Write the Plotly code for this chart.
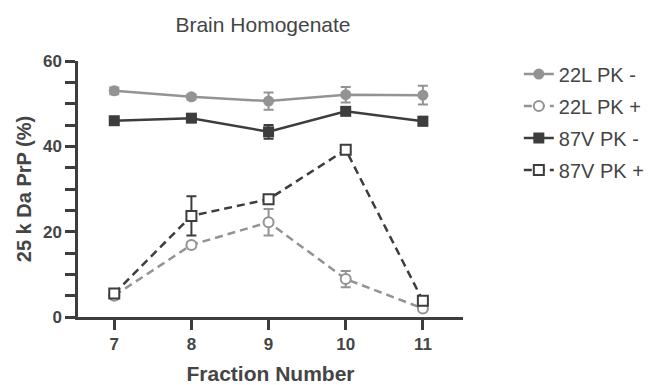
import plotly.graph_objects as go

fractions = [7, 8, 9, 10, 11]

pk_minus_22l = [53.0, 51.6, 50.6, 52.1, 52.0]
pk_minus_22l_err = [0.8, 0.6, 2.0, 1.8, 2.2]

pk_plus_22l = [5.0, 16.9, 22.2, 8.9, 2.0]
pk_plus_22l_err = [0.5, 0.6, 3.1, 1.9, 0.5]

pk_minus_87v = [46.0, 46.6, 43.4, 48.2, 45.9]
pk_minus_87v_err = [0.6, 0.5, 1.6, 0.6, 1.0]

pk_plus_87v = [5.5, 23.7, 27.6, 39.2, 3.8]
pk_plus_87v_err = [0.8, 4.6, 0.8, 0.5, 0.6]

LIGHT = "#939393"
DARK = "#3d3d3d"
TEXT = "#454545"
FONT = "Liberation Sans, Arial, sans-serif"

fig = go.Figure()

def add(name, y, err, color, symbol, dash, filled):
    if filled:
        marker = dict(symbol=symbol, size=11, color=color, line=dict(width=0))
    else:
        marker = dict(symbol=symbol, size=10, color="white", line=dict(color=color, width=2))
    fig.add_trace(go.Scatter(
        x=fractions, y=y, name=name, mode="lines+markers", legendgroup=name,
        line=dict(color=color, width=2.5, dash=dash),
        marker=marker,
        error_y=dict(type="data", array=err, visible=True, color=color, thickness=2, width=5),
    ))

add("22L PK -", pk_minus_22l, pk_minus_22l_err, LIGHT, "circle", "solid", True)
add("22L PK +", pk_plus_22l, pk_plus_22l_err, LIGHT, "circle", "8px,5px", False)
add("87V PK -", pk_minus_87v, pk_minus_87v_err, DARK, "square", "solid", True)
add("87V PK +", pk_plus_87v, pk_plus_87v_err, DARK, "square", "8px,5px", False)

fig.update_layout(
    width=656, height=385,
    margin=dict(l=78, r=193, t=61, b=68, autoexpand=False),
    paper_bgcolor="white", plot_bgcolor="white",
    font=dict(family=FONT, color=TEXT),
    title=dict(text="Brain Homogenate", x=263 / 656, xanchor="center",
               y=1 - 25 / 385, yanchor="middle", font=dict(size=21, color=TEXT)),
    showlegend=True,
    legend=dict(x=1.145, y=1.025, xanchor="left", yanchor="top",
                font=dict(size=20, color=TEXT), tracegroupgap=3,
                itemwidth=30, bgcolor="rgba(0,0,0,0)"),
    xaxis=dict(
        range=[6.53, 11.52], tickvals=fractions, ticks="outside", ticklen=10,
        tickwidth=2.5, tickcolor=DARK, showline=True, linecolor=DARK, linewidth=2.5,
        showgrid=False, zeroline=False, automargin=False,
        tickfont=dict(size=17, color=TEXT, family=FONT, weight="bold"),
        title=dict(text="<b>Fraction Number</b>", font=dict(size=21, color=TEXT), standoff=14),
    ),
    yaxis=dict(
        range=[0, 60], dtick=20, ticks="outside", ticklen=10, tickwidth=2.5,
        tickcolor=DARK, showline=True, linecolor=DARK, linewidth=2.5,
        showgrid=False, zeroline=False, automargin=False,
        minor=dict(dtick=5, ticks="outside", ticklen=10, tickwidth=2.5, tickcolor=DARK, showgrid=False),
        tickfont=dict(size=17, color=TEXT, family=FONT, weight="bold"),
        title=dict(text="<b>25 k Da PrP (%)</b>", font=dict(size=20, color=TEXT), standoff=6),
    ),
)

fig.write_html("out.html")
